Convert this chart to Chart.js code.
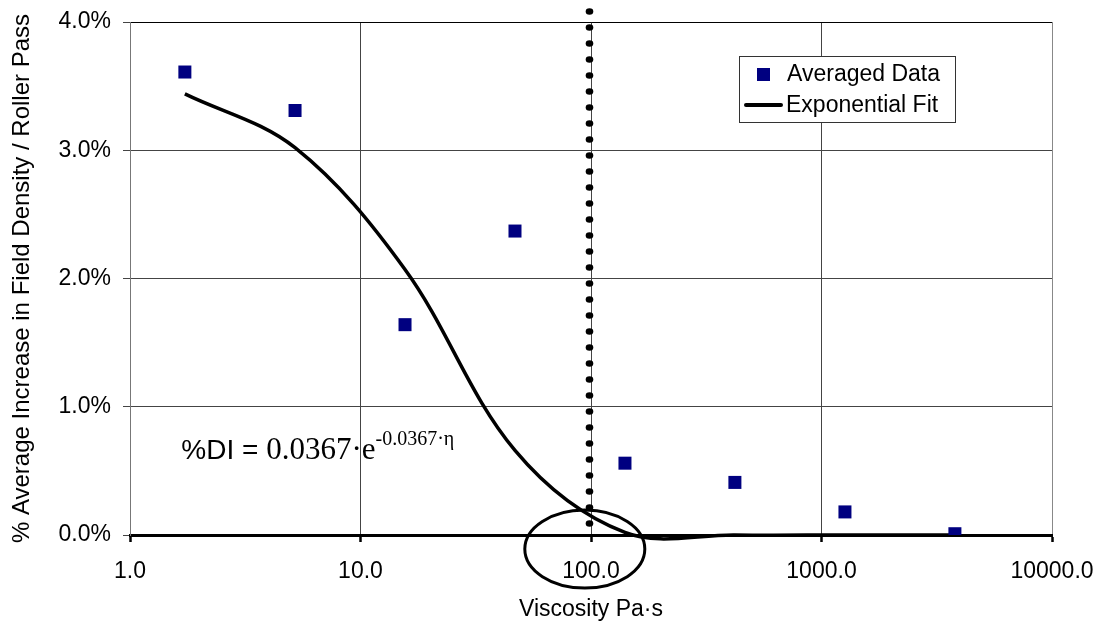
<!DOCTYPE html>
<html>
<head>
<meta charset="utf-8">
<script src="https://cdn.jsdelivr.net/npm/chart.js@4/dist/chart.umd.min.js"></script>
<style>
  html, body { margin: 0; padding: 0; background: #fff; }
  #wrap { width: 1099px; height: 625px; }
</style>
</head>
<body>
<div id="wrap"><canvas id="myChart" width="1099" height="625"></canvas></div>
<script>
// viscosity (Pa·s) of each averaged point
const viscosity = [1.73, 5.2, 15.6, 46.8, 140.4, 421, 1264, 3791];
// % average increase in field density per roller pass
const averagedData = [3.61, 3.31, 1.64, 2.37, 0.56, 0.41, 0.18, 0.01];
// exponential fit read at the same viscosities
const fitValues = [3.44, 3.02, 2.07, 0.66, 0.02, 0.00, 0.00, 0.00];

const xTicks = [1, 10, 100, 1000, 10000];
const yTicks = [0, 1, 2, 3, 4];

// annotations (data units)
const markerViscosity = 100;
const ellipseCenter = [94, -0.11];
const formulaAt = [1.67, 0.59];

const FONT = "'Liberation Sans', Arial, sans-serif";
const SERIF = "'Liberation Serif', 'Times New Roman', serif";

const annotations = {
    id: 'annotations',
    afterDraw(chart) {
        const ctx = chart.ctx;
        const xs = chart.scales.x;
        const ys = chart.scales.y;
        const area = chart.chartArea;
        ctx.save();

        // dotted vertical line at 100 Pa·s
        const vx = xs.getPixelForValue(markerViscosity) - 1.5;
        const yEnd = ys.getPixelForValue(0) - 10;
        ctx.fillStyle = '#000';
        for (let y = area.top - 10.5; y <= yEnd; y += 16) {
            ctx.beginPath();
            ctx.ellipse(vx, y, 3.8, 3.3, 0, 0, Math.PI * 2);
            ctx.fill();
        }

        // ellipse round the crossing
        ctx.strokeStyle = '#000';
        ctx.lineWidth = 3;
        ctx.beginPath();
        ctx.ellipse(xs.getPixelForValue(ellipseCenter[0]), ys.getPixelForValue(ellipseCenter[1]), 60, 39, 0, 0, Math.PI * 2);
        ctx.stroke();

        // fit equation
        let fx = xs.getPixelForValue(formulaAt[0]);
        const fy = ys.getPixelForValue(formulaAt[1]);
        ctx.textBaseline = 'alphabetic';
        ctx.textAlign = 'left';
        ctx.font = '28px ' + FONT;
        ctx.fillText('%DI = ', fx, fy);
        fx += ctx.measureText('%DI = ').width;
        ctx.font = '31px ' + SERIF;
        ctx.fillText('0.0367\u00b7e', fx, fy);
        fx += ctx.measureText('0.0367\u00b7e').width;
        ctx.font = '20px ' + SERIF;
        ctx.fillText('-0.0367\u00b7\u03b7', fx, fy - 14);

        // legend box
        const bx = area.right - 313, by = area.top + 34, bw = 216, bh = 66;
        ctx.fillStyle = '#fff';
        ctx.fillRect(bx, by, bw, bh);
        ctx.strokeStyle = '#333';
        ctx.lineWidth = 1;
        ctx.strokeRect(bx + 0.5, by + 0.5, bw, bh);
        const ds = chart.data.datasets;
        ctx.fillStyle = ds[0].backgroundColor;
        ctx.fillRect(bx + 18, by + 12, 13, 13);
        ctx.strokeStyle = ds[1].borderColor;
        ctx.lineWidth = 4;
        ctx.lineCap = 'round';
        ctx.beginPath();
        ctx.moveTo(bx + 7, by + 49);
        ctx.lineTo(bx + 42, by + 49);
        ctx.stroke();
        ctx.fillStyle = '#000';
        ctx.font = '23px ' + FONT;
        ctx.textBaseline = 'middle';
        ctx.fillText(ds[0].label, bx + 48, by + 19);
        ctx.fillText(ds[1].label, bx + 47, by + 50);
        ctx.restore();
    }
};

const ctx = document.getElementById('myChart');

new Chart(ctx, {
    type: 'scatter',
    data: {
        datasets: [{
            label: 'Averaged Data',
            data: viscosity.map((v, i) => ({x: v, y: averagedData[i]})),
            backgroundColor: '#000080',
            borderColor: '#000080',
            borderWidth: 0,
            pointStyle: 'rect',
            pointRadius: 9.2,
            order: 1
        }, {
            label: 'Exponential Fit',
            type: 'line',
            data: viscosity.map((v, i) => ({x: v, y: fitValues[i]})),
            borderColor: '#000',
            borderWidth: 3.5,
            pointRadius: 0,
            tension: 0.35,
            fill: false,
            clip: false,
            order: 2
        }]
    },
    options: {
        responsive: false,
        animation: false,
        layout: { padding: { top: 22, right: 47, left: 0, bottom: 0 } },
        elements: { line: { capBezierPoints: false } },
        plugins: {
            legend: { display: false },
            tooltip: { enabled: false }
        },
        scales: {
            x: {
                type: 'logarithmic',
                min: 1,
                max: 10000,
                afterBuildTicks: (scale) => { scale.ticks = xTicks.map(v => ({value: v})); },
                afterFit: (scale) => {
                    scale.height = 90;
                    scale.paddingLeft = 0;
                    scale.paddingRight = 0;
                },
                ticks: {
                    color: '#000',
                    font: { family: FONT, size: 23 },
                    padding: 16,
                    maxRotation: 0,
                    autoSkip: false,
                    callback: (v) => Number(v).toFixed(1)
                },
                grid: {
                    color: (c) => c.tick && c.tick.value === 10000 ? '#888' : '#444',
                    lineWidth: 1,
                    tickLength: 7,
                    tickColor: '#000',
                    tickWidth: 2.5
                },
                border: { color: '#000', width: 3 },
                title: {
                    display: true,
                    text: 'Viscosity Pa\u00b7s',
                    color: '#000',
                    font: { family: FONT, size: 23 },
                    padding: { top: 0, bottom: 2 }
                }
            },
            y: {
                min: 0,
                max: 4,
                afterBuildTicks: (scale) => { scale.ticks = yTicks.map(v => ({value: v})); },
                afterFit: (scale) => {
                    scale.width = 130;
                    scale.paddingTop = 0;
                    scale.paddingBottom = 0;
                },
                ticks: {
                    color: '#000',
                    font: { family: FONT, size: 23 },
                    padding: 12,
                    callback: (v) => Number(v).toFixed(1) + '%'
                },
                grid: {
                    color: (c) => c.tick && c.tick.value === 4 ? '#000' : '#444',
                    lineWidth: 1,
                    tickLength: 7,
                    tickColor: '#444'
                },
                border: { color: '#777', width: 1 },
                title: {
                    display: true,
                    text: '% Average Increase in Field Density / Roller Pass',
                    color: '#000',
                    font: { family: FONT, size: 24 },
                    padding: { top: 8, bottom: 0 }
                }
            }
        }
    },
    plugins: [annotations]
});
</script>
</body>
</html>
